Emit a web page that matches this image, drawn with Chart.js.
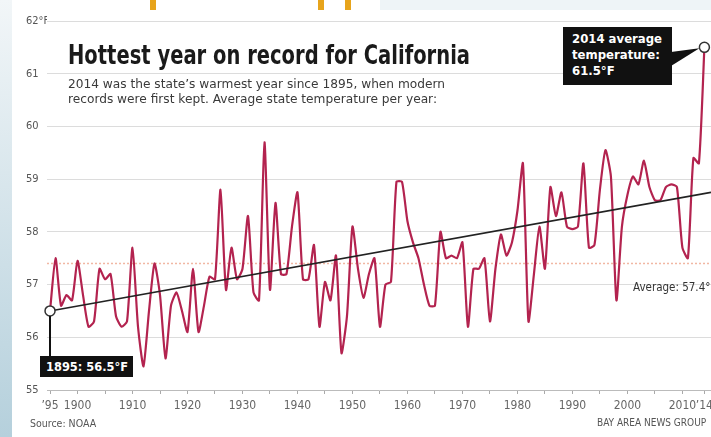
<!DOCTYPE html>
<html>
<head>
<meta charset="utf-8">
<script src="https://cdn.jsdelivr.net/npm/chart.js@4.4.1/dist/chart.umd.min.js"></script>
<style>
  body { margin:0; width:711px; height:437px; overflow:hidden; background:#fff; position:relative;
         font-family:"Liberation Sans Narrow","DejaVu Sans Condensed",sans-serif; }
  #box { position:absolute; left:0; top:0; width:711px; height:437px; }
  .strip { position:absolute; left:0; top:0; width:12px; height:437px; background:linear-gradient(#f2f6f8, #b5d0dc); }
  .topband { position:absolute; left:380px; top:0; width:331px; height:10px; background:#eef4f7; }
  .orange { position:absolute; top:0; width:6px; height:10px; background:#e7a41c; }
  .t { position:absolute; white-space:nowrap; transform-origin:left center; }
  .callout { position:absolute; background:#111; }
</style>
</head>
<body>
<div class="strip"></div>
<div class="topband"></div>
<div class="orange" style="left:150px"></div>
<div class="orange" style="left:318px"></div>
<div class="orange" style="left:345px"></div>
<div id="box"><canvas id="chart"></canvas></div>

<div class="t" data-w="402" style="left:68px; top:40px; font-size:26px; line-height:30px; font-weight:bold; color:#1a1a1a;">Hottest year on record for California</div>
<div class="t" data-w="377" style="left:68px; top:77px; font-size:12.5px; line-height:14px; color:#3a3a3a;">2014 was the state’s warmest year since 1895, when modern</div>
<div class="t" data-w="369" style="left:68px; top:92px; font-size:12.5px; line-height:14px; color:#3a3a3a;">records were first kept. Average state temperature per year:</div>

<div class="callout" style="left:563px; top:27px; width:109px; height:58px;"></div>
<div class="t" style="left:572px; top:31px; font-size:13px; line-height:16px; font-weight:bold; color:#fff;">2014 average<br>temperature:<br>61.5°F</div>

<div class="callout" style="left:40px; top:356px; width:93px; height:21px;"></div>
<div class="t" data-w="82" style="left:46px; top:359px; font-size:13px; line-height:15px; font-weight:bold; color:#fff;">1895: 56.5°F</div>

<div class="t" style="left:633px; top:280px; font-size:11.5px; line-height:14px; color:#333;">Average: 57.4°F</div>
<div class="t" style="left:30px; top:417px; font-size:10.5px; line-height:13px; color:#555;">Source: NOAA</div>
<div class="t" style="left:597px; top:416px; font-size:10px; line-height:13px; color:#555;">BAY AREA NEWS GROUP</div>

<script>
const FONT = '"Liberation Sans Narrow","DejaVu Sans Condensed",sans-serif';

// years 1895..2014
const years = [];
for (let yr = 1895; yr <= 2014; yr++) years.push(yr);

// average annual temperature, °F
const temps = [
  56.5, 57.5, 56.6, 56.8, 56.7, 57.45, 56.8, 56.2, 56.3, 57.3,   // 1895-1904
  57.1, 57.2, 56.4, 56.2, 56.3, 57.7, 56.2, 55.45, 56.5, 57.4,   // 1905-1914
  56.8, 55.6, 56.6, 56.85, 56.5, 56.1, 57.3, 56.1, 56.6, 57.15,  // 1915-1924
  57.1, 58.8, 56.9, 57.7, 57.1, 57.3, 58.3, 56.85, 56.7, 59.7,   // 1925-1934
  56.9, 58.55, 57.2, 57.2, 58.1, 58.75, 57.1, 57.1, 57.75, 56.2, // 1935-1944
  57.05, 56.7, 57.55, 55.7, 56.4, 58.1, 57.3, 56.75, 57.2, 57.5, // 1945-1954
  56.2, 57.0, 57.05, 58.95, 58.95, 58.2, 57.8, 57.5, 57.0, 56.6, // 1955-1964
  56.6, 58.0, 57.5, 57.55, 57.5, 57.8, 56.2, 57.3, 57.3, 57.5,   // 1965-1974
  56.3, 57.3, 57.95, 57.55, 57.8, 58.4, 59.3, 56.3, 57.2, 58.1,  // 1975-1984
  57.3, 58.85, 58.3, 58.75, 58.1, 58.05, 58.1, 59.3, 57.7, 57.75,// 1985-1994
  58.8, 59.55, 59.05, 56.7, 58.1, 58.7, 59.05, 58.9, 59.35, 58.85,// 1995-2004
  58.6, 58.6, 58.85, 58.9, 58.85, 57.7, 57.5, 59.4, 59.3, 61.5   // 2005-2014
];

const avgTemp = 57.4;
const trendYears = [1895, 2015.2];
const trendValues = [56.5, 58.75];

const tickYears = [1895, 1900, 1905, 1910, 1915, 1920, 1925, 1930, 1935, 1940, 1945, 1950,
                   1955, 1960, 1965, 1970, 1975, 1980, 1985, 1990, 1995, 2000, 2005, 2010, 2014];
const tickLabels = ['’95', '1900', '', '1910', '', '1920', '', '1930', '', '1940', '', '1950',
                    '', '1960', '', '1970', '', '1980', '', '1990', '', '2000', '', '2010', '’14'];
const yTicks = [55, 56, 57, 58, 59, 60, 61, 62];
const yTickLabels = ['55', '56', '57', '58', '59', '60', '61', '62°F'];

const xMin = 1894.45, xMax = 2015.2;
const last = temps.length - 1;

const connectors = {
  id: 'connectors',
  afterDatasetsDraw(chart) {
    const { ctx, scales: { x, y } } = chart;
    const x0 = x.getPixelForValue(years[0]), y0 = y.getPixelForValue(temps[0]);
    const x1 = x.getPixelForValue(years[last]), y1 = y.getPixelForValue(temps[last]);
    ctx.save();
    ctx.strokeStyle = '#111';
    ctx.lineWidth = 2;
    ctx.beginPath();
    ctx.moveTo(x0, y0 + 5);
    ctx.lineTo(x0, 357);
    ctx.stroke();
    ctx.fillStyle = '#111';
    ctx.beginPath();
    ctx.moveTo(671, 52);
    ctx.lineTo(671, 66);
    ctx.lineTo(x1 - 5, y1 + 1);
    ctx.closePath();
    ctx.fill();
    ctx.restore();
  }
};

new Chart(document.getElementById('chart'), {
  type: 'line',
  data: {
    datasets: [
      {
        label: 'ends',
        data: [{ x: years[0], y: temps[0] }, { x: years[last], y: temps[last] }],
        showLine: false,
        pointRadius: 5,
        pointBackgroundColor: '#fff',
        pointBorderColor: '#333',
        pointBorderWidth: 1.5,
        clip: false,
        order: 0
      },
      {
        label: 'Trend',
        data: trendYears.map((v, i) => ({ x: v, y: trendValues[i] })),
        borderColor: '#222',
        borderWidth: 1.6,
        pointRadius: 0,
        order: 1
      },
      {
        label: 'Temperature',
        data: years.map((v, i) => ({ x: v, y: temps[i] })),
        borderColor: '#b3234f',
        borderWidth: 2.2,
        pointRadius: 0,
        tension: 0.2,
        clip: false,
        order: 2
      },
      {
        label: 'Average',
        data: [{ x: xMin, y: avgTemp }, { x: xMax, y: avgTemp }],
        borderColor: '#f1b7a3',
        borderWidth: 1.5,
        borderDash: [2, 2],
        pointRadius: 0,
        order: 3
      }
    ]
  },
  options: {
    responsive: true,
    maintainAspectRatio: false,
    animation: false,
    layout: { autoPadding: false, padding: { left: 26, top: 21, right: 0, bottom: 0 } },
    plugins: { legend: { display: false }, tooltip: { enabled: false } },
    scales: {
      x: {
        type: 'linear',
        min: xMin,
        max: xMax,
        afterBuildTicks: s => { s.ticks = tickYears.map(v => ({ value: v })); },
        afterFit: s => { s.height = 47; s.paddingLeft = 0; s.paddingRight = 0; },
        ticks: {
          autoSkip: false,
          maxRotation: 0,
          padding: 5,
          color: '#666',
          font: { family: FONT, size: 12 },
          callback: v => tickLabels[tickYears.indexOf(v)]
        },
        grid: { drawOnChartArea: false, drawTicks: true, tickLength: 4, color: '#aaa' },
        border: { display: true, color: '#bbb', dash: [2, 2] }
      },
      y: {
        min: 55,
        max: 62,
        afterBuildTicks: s => { s.ticks = yTicks.map(v => ({ value: v })); },
        afterFit: s => { s.width = 21; },
        ticks: {
          crossAlign: 'far',
          padding: 0,
          color: '#555',
          font: { family: FONT, size: 11 },
          callback: v => yTickLabels[yTicks.indexOf(v)]
        },
        grid: { color: c => c.tick && c.tick.value === 55 ? 'rgba(0,0,0,0)' : '#dcdcdc', drawTicks: false },
        border: { display: false }
      }
    }
  },
  plugins: [connectors]
});

document.querySelectorAll('[data-w]').forEach(el => {
  const w = el.getBoundingClientRect().width;
  el.style.transform = 'scaleX(' + (el.dataset.w / w) + ')';
});
</script>
</body>
</html>
